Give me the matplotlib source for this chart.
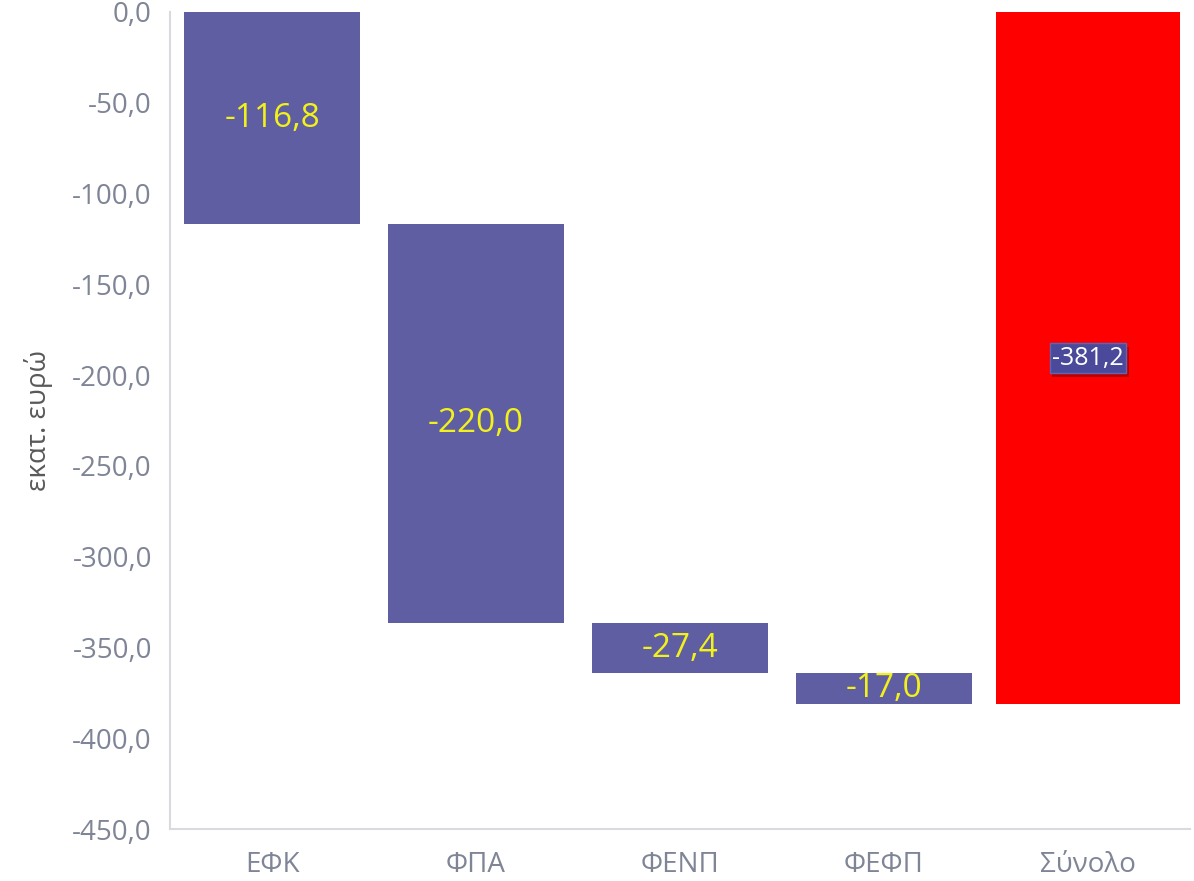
import matplotlib
matplotlib.use("Agg")
import matplotlib.pyplot as plt
import matplotlib.patheffects as pe
import numpy as np

categories = ["ΕΦΚ", "ΦΠΑ", "ΦΕΝΠ", "ΦΕΦΠ", "Σύνολο"]
changes = [-116.8, -220.0, -27.4, -17.0]
total = -381.2
yticks = [0, -50, -100, -150, -200, -250, -300, -350, -400, -450]

plt.rcParams['font.family'] = ['Open Sans', 'DejaVu Sans']

fig = plt.figure(figsize=(11.94, 8.81), dpi=100)
ax = fig.add_axes([170/1194, 1-829/881, (1190-170)/1194, (829-12)/881])

tops = np.concatenate([[0], np.cumsum(changes)[:-1]])
x = np.arange(len(changes))
bar_color = "#5F5EA3"
ax.bar(x, changes, bottom=tops, width=0.865, color=bar_color, zorder=2)
ax.bar([len(changes)], [total], bottom=0, width=0.905, color="#FF0000", zorder=2)

def fmt(v):
    return f"{v:.1f}".replace(".", ",")

for xi, t, c in zip(x, tops, changes):
    ax.text(xi, t + c/2, fmt(c), ha="center", va="center", color="#F2F21A", fontsize=24, zorder=3)

ax.text(len(changes), total/2, fmt(total), ha="center", va="center", color="white", fontsize=18, zorder=4,
        bbox=dict(boxstyle="square,pad=0.1", facecolor="#4B4A9A", edgecolor="#6464B4", linewidth=1,
                  path_effects=[pe.withSimplePatchShadow(offset=(2, -3), shadow_rgbFace="#900000", alpha=0.6)]))

ax.set_xlim(-0.5, 4.5)
ax.set_ylim(-450, 0)
ax.set_yticks(yticks)
ax.set_yticklabels([fmt(float(v)) for v in yticks])
ax.set_xticks(range(len(categories)))
ax.set_xticklabels(categories)
ax.tick_params(axis="both", length=0, colors="#7F8596", labelsize=20)
ax.tick_params(axis="y", pad=13)
ax.tick_params(axis="x", pad=16)
for s in ["top", "right"]:
    ax.spines[s].set_visible(False)
for s in ["left", "bottom"]:
    ax.spines[s].set_color("#D9D9DF")
    ax.spines[s].set_linewidth(1.5)

ax.set_ylabel("εκατ. ευρώ", fontsize=20, color="#595959", labelpad=14)

fig.savefig("out.png", dpi=100)
